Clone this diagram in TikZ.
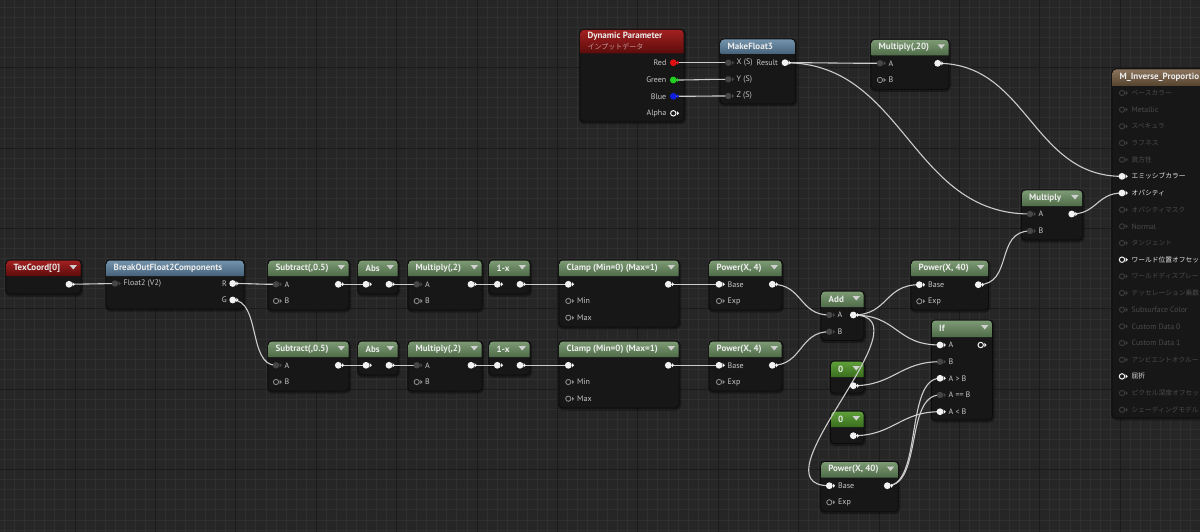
\documentclass[tikz,border=0pt]{standalone}
\usepackage{fontspec}
\setmainfont{PT Sans}
\newfontfamily\jp{Noto Sans CJK JP}
\newcommand\jpm{\fontsize{6.75}{8}\selectfont\jp}
\usetikzlibrary{calc}
\definecolor{bgc}{HTML}{262626}
\definecolor{gminor}{HTML}{2F2F2F}
\definecolor{gmajor}{HTML}{1B1B1B}
\definecolor{bodyc}{HTML}{171717}
\definecolor{bodyline}{HTML}{0B0B0B}
\definecolor{grtop}{HTML}{7C9A74}
\definecolor{grbot}{HTML}{4F6C48}
\definecolor{rdtop}{HTML}{A32020}
\definecolor{rdbot}{HTML}{5C0C0C}
\definecolor{bltop}{HTML}{7393AC}
\definecolor{blbot}{HTML}{46627A}
\definecolor{cgtop}{HTML}{5FA03A}
\definecolor{cgbot}{HTML}{3A6E1E}
\definecolor{brtop}{HTML}{8B735C}
\definecolor{brbot}{HTML}{55432F}
\definecolor{hdrtx}{HTML}{ECECEC}
\definecolor{lblc}{HTML}{C8C8C8}
\definecolor{dimtx}{HTML}{4A4A4A}
\definecolor{brtx}{HTML}{E4E4E4}
\definecolor{wirec}{HTML}{CCCCCC}
\definecolor{pinwc}{HTML}{F2F2F2}
\definecolor{pindc}{HTML}{464646}
\definecolor{pinhc}{HTML}{8A8A8A}
\definecolor{pindim}{HTML}{3E3E3E}
\definecolor{pinred}{HTML}{E01010}
\definecolor{pingrn}{HTML}{20D020}
\definecolor{pinblu}{HTML}{1020E0}
\definecolor{jpsub}{HTML}{C29A9A}
\definecolor{ddc}{HTML}{D0D0D0}
\pgfdeclarelayer{bglayer}
\pgfdeclarelayer{wirelayer}
\pgfsetlayers{bglayer,wirelayer,main}
\tikzset{
 wire/.style={draw=wirec, line width=1.1pt},
 uebody/.style={draw=bodyline, fill=bodyc, rounded corners=4, inner sep=0, outer sep=0, line width=0.8pt},
 hgreen/.style={top color=grtop, bottom color=grbot},
 hred/.style={top color=rdtop, bottom color=rdbot},
 hblue/.style={top color=bltop, bottom color=blbot},
 hconst/.style={top color=cgtop, bottom color=cgbot},
 hbrown/.style={top color=brtop, bottom color=brbot},
 hdrtext/.style={font=\fontsize{9}{10}\selectfont\bfseries, text=hdrtx, anchor=west, inner sep=0},
 lbl/.style={font=\fontsize{8}{9}\selectfont, text=lblc, anchor=west, inner sep=0},
 lblr/.style={lbl, anchor=east},
 matlbl/.style={font=\fontsize{7.8}{9}\selectfont, anchor=west, inner sep=0},
 jpsubt/.style={font=\fontsize{7}{8}\selectfont\jp, text=jpsub, anchor=west, inner sep=0},
 ddtri/.style={fill=ddc},
 pinW/.style={circle, fill=pinwc, inner sep=0, minimum size=6.8},
 tipW/.style={fill=pinwc},
 pinD/.style={circle, fill=pindc, inner sep=0, minimum size=6.4},
 tipD/.style={fill=pindc},
 pinH/.style={circle, draw=pinhc, line width=0.9pt, inner sep=0, minimum size=5.2},
 tipH/.style={fill=pinhc},
 pinHW/.style={circle, draw=pinwc, line width=1pt, inner sep=0, minimum size=5.4},
 tipHW/.style={fill=pinwc},
 pinHD/.style={circle, draw=pindim, line width=0.9pt, inner sep=0, minimum size=5.2},
 tipHD/.style={fill=pindim},
 pinR/.style={circle, fill=pinred, inner sep=0, minimum size=6.8},
 tipR/.style={fill=pinred},
 pinG/.style={circle, fill=pingrn, inner sep=0, minimum size=6.8},
 tipG/.style={fill=pingrn},
 pinB/.style={circle, fill=pinblu, inner sep=0, minimum size=6.8},
 tipB/.style={fill=pinblu},
}
% #1 name, #2 x1, #3 y1, #4 x2, #5 y2, #6 header height, #7 header style, #8 title
\newcommand\uebox[8]{%
 \begin{pgfonlayer}{bglayer}
 \fill[black, opacity=0.35, rounded corners=5] (#2-1,#3-0.5) rectangle (#4+2,#5+2.5);
 \node[uebody, anchor=north west, minimum width={#4-#2}, minimum height={#5-#3}] (#1) at (#2,#3) {};
 \shade[#7] (#2+0.5,#3+#6) [rounded corners=3.5] -- (#2+0.5,#3+0.5) -- (#4-0.5,#3+0.5) [sharp corners] -- (#4-0.5,#3+#6) -- cycle;
 \end{pgfonlayer}
 \node[hdrtext] (#1-t) at (#2+7.5,#3+#6/2) {#8};
}
\newcommand\dd[1]{\fill[ddtri] ($(#1.north east)+(-11.5,5)$) -- ++(7.5,0) -- ++(-3.75,4.5) -- cycle;}
% #1 style letter, #2 name, #3 x, #4 y
\newcommand\mkpin[4]{%
 \node[pin#1] (#2) at (#3,#4) {};
 \fill[tip#1] ($(#2.center)+(3.7,-2.1)$) -- ++(2.1,2.1) -- ++(-2.1,2.1) -- cycle;
}
% #1 suffix, #2 top y
\newcommand\chainrow[2]{%
 \uebox{sub#1}{268}{#2}{349}{#2+50}{16}{hgreen}{Subtract(,0.5)}\dd{sub#1}
 \mkpin{D}{sub#1a}{276}{#2+24.3}\node[lbl] (sub#1al) at (284.5,#2+24.3) {A};
 \mkpin{H}{sub#1b}{276}{#2+41}\node[lbl] (sub#1bl) at (284.5,#2+41) {B};
 \mkpin{W}{sub#1o}{338.3}{#2+24.3}
 \uebox{abs#1}{358}{#2}{398}{#2+34}{16}{hgreen}{Abs}\dd{abs#1}
 \mkpin{W}{abs#1i}{366}{#2+24.3}
 \mkpin{W}{abs#1o}{389}{#2+24.3}
 \uebox{mul#1}{408}{#2}{482}{#2+50}{16}{hgreen}{Multiply(,2)}\dd{mul#1}
 \mkpin{D}{mul#1a}{416.7}{#2+24.3}\node[lbl] (mul#1al) at (425,#2+24.3) {A};
 \mkpin{H}{mul#1b}{416.7}{#2+41}\node[lbl] (mul#1bl) at (425,#2+41) {B};
 \mkpin{W}{mul#1o}{471}{#2+24.3}
 \uebox{omx#1}{489}{#2}{530}{#2+34}{16}{hgreen}{1-x}\dd{omx#1}
 \mkpin{W}{omx#1i}{497.3}{#2+24.3}
 \mkpin{W}{omx#1o}{520}{#2+24.3}
 \uebox{clp#1}{559}{#2}{679}{#2+67}{16}{hgreen}{Clamp (Min=0) (Max=1)}\dd{clp#1}
 \mkpin{W}{clp#1i}{568.3}{#2+24.3}
 \mkpin{H}{clp#1n}{568.3}{#2+41}\node[lbl] (clp#1nl) at (577,#2+41) {Min};
 \mkpin{H}{clp#1x}{568.3}{#2+57.7}\node[lbl] (clp#1xl) at (577,#2+57.7) {Max};
 \mkpin{W}{clp#1o}{668.3}{#2+24.3}
 \uebox{pow#1}{709}{#2}{782}{#2+50}{16}{hgreen}{Power(X, 4)}\dd{pow#1}
 \mkpin{W}{pow#1b}{719}{#2+24.3}\node[lbl] (pow#1bl) at (727.5,#2+24.3) {Base};
 \mkpin{H}{pow#1e}{719}{#2+41}\node[lbl] (pow#1el) at (727.5,#2+41) {Exp};
 \mkpin{W}{pow#1o}{772.3}{#2+24.3}
 \begin{pgfonlayer}{wirelayer}
 \draw[wire] (sub#1o.center) -- (abs#1i.center);
 \draw[wire] (abs#1o.center) -- (mul#1a.center);
 \draw[wire] (mul#1o.center) -- (omx#1i.center);
 \draw[wire] (omx#1o.center) -- (clp#1i.center);
 \draw[wire] (clp#1o.center) -- (pow#1b.center);
 \end{pgfonlayer}
}
% #1 index, #2 pin style, #3 text colour, #4 text
\newcommand\matpin[4]{%
 \mkpin{#2}{mp#1}{1122}{93+#1*16.67}
 \node[matlbl, text=#3] (ml#1) at (1131.5,93+#1*16.67) {#4};
}
\begin{document}
\begin{tikzpicture}[x=1pt,y=-1pt]
\useasboundingbox (0,0) rectangle (1200,532);
\begin{pgfonlayer}{bglayer}
\fill[bgc] (0,0) rectangle (1200,532);
\foreach \i in {-7,...,112} \draw[gminor, line width=0.9pt] ({75+\i*10.05},0) -- ({75+\i*10.05},532);
\foreach \j in {-6,...,46} \draw[gminor, line width=0.9pt] (0,{67.7+\j*10.05}) -- (1200,{67.7+\j*10.05});
\foreach \i in {0,...,14} \draw[gmajor, line width=1pt] ({75+\i*80.4},0) -- ({75+\i*80.4},532);
\foreach \j in {0,...,5} \draw[gmajor, line width=1pt] (0,{67.7+\j*80.4}) -- (1200,{67.7+\j*80.4});
\end{pgfonlayer}

% TexCoord
\uebox{tex}{6}{260}{81}{294}{16}{hred}{TexCoord[0]}\dd{tex}
\mkpin{W}{texo}{69}{284.3}
% BreakOut
\uebox{brk}{106}{260}{244}{309}{16}{hblue}{BreakOutFloat2Components}
\mkpin{D}{brki}{115}{283.5}\node[lbl] (brkil) at (123.5,283.5) {Float2 (V2)};
\mkpin{W}{brkr}{232.7}{283.5}\node[lblr] (brkrl) at (227,283.5) {R};
\mkpin{W}{brkg}{232.7}{300}\node[lblr] (brkgl) at (227,300) {G};

\chainrow{1}{260}
\chainrow{2}{341}

% Add
\uebox{add}{821}{291}{864}{340.5}{16}{hgreen}{Add}\dd{add}
\mkpin{D}{adda}{829.3}{315}\node[lbl] (addal) at (837.5,315) {A};
\mkpin{D}{addb}{829.3}{331.7}\node[lbl] (addbl) at (837.5,331.7) {B};
\mkpin{W}{addo}{853.3}{315}
% Power 40 top
\uebox{p40a}{911}{260}{988.5}{310}{16}{hgreen}{Power(X, 40)}\dd{p40a}
\mkpin{W}{p40ab}{919.3}{284.7}\node[lbl] (p40abl) at (928,284.7) {Base};
\mkpin{H}{p40ae}{919.3}{301.3}\node[lbl] (p40ael) at (928,301.3) {Exp};
\mkpin{W}{p40ao}{978.3}{284.7}
% If
\uebox{iff}{931.5}{320}{992.5}{420}{17}{hgreen}{If}\dd{iff}
\mkpin{W}{iffa}{940}{345}\node[lbl] (iffal) at (948.5,345) {A};
\mkpin{D}{iffb}{940}{361.7}\node[lbl] (iffbl) at (948.5,361.7) {B};
\mkpin{W}{iffgt}{940}{378.3}\node[lbl] (iffgtl) at (948.5,378.3) {A > B};
\mkpin{D}{iffeq}{940}{395}\node[lbl] (iffeql) at (948.5,395) {A == B};
\mkpin{W}{ifflt}{940}{411.7}\node[lbl] (ifflt-l) at (948.5,411.7) {A < B};
\mkpin{HW}{iffo}{980.7}{345}
% Constants
\uebox{c0a}{830.5}{361}{864}{393.3}{16}{hconst}{0}\dd{c0a}
\mkpin{W}{c0ao}{853.3}{385.7}
\uebox{c0b}{830.5}{411}{864}{443.5}{16}{hconst}{0}\dd{c0b}
\mkpin{W}{c0bo}{853.3}{435.7}
% Power 40 bottom
\uebox{p40b}{820.7}{461.5}{898.3}{511.7}{16}{hgreen}{Power(X, 40)}\dd{p40b}
\mkpin{W}{p40bb}{829.3}{485.7}\node[lbl] (p40bbl) at (838,485.7) {Base};
\mkpin{H}{p40be}{829.3}{502.3}\node[lbl] (p40bel) at (838,502.3) {Exp};
\mkpin{W}{p40bo}{887.3}{485.7}
% Multiply
\uebox{mul}{1021.5}{190}{1082.7}{240}{16}{hgreen}{Multiply}\dd{mul}
\mkpin{D}{mula}{1030}{214}\node[lbl] (mulal) at (1038.5,214) {A};
\mkpin{D}{mulb}{1030}{231}\node[lbl] (mulbl) at (1038.5,231) {B};
\mkpin{W}{mulo}{1071.7}{214}
% Dynamic Parameter
\uebox{dyn}{580}{29.3}{684}{121.7}{24}{hred}{}
\node[hdrtext] (dynt1) at (587.3,36) {Dynamic Parameter};
\node[jpsubt] (dynt2) at (587.3,46.7) {インプットデータ};
\mkpin{R}{dynr}{673.3}{62.7}\node[lblr] (dynrl) at (666.5,62.7) {Red};
\mkpin{G}{dyng}{673.3}{80}\node[lblr] (dyngl) at (666.5,80) {Green};
\mkpin{B}{dynb}{673.3}{96.3}\node[lblr] (dynbl) at (666.5,96.3) {Blue};
\mkpin{HW}{dyna}{673.3}{113.3}\node[lblr] (dynal) at (666.5,113.3) {Alpha};
% MakeFloat3
\uebox{mk3}{720}{39}{795.3}{104}{15}{hblue}{MakeFloat3}
\mkpin{D}{mk3x}{728.3}{62.7}\node[lbl] (mk3xl) at (736.5,62.7) {X (S)};
\mkpin{D}{mk3y}{728.3}{79.3}\node[lbl] (mk3yl) at (736.5,79.3) {Y (S)};
\mkpin{D}{mk3z}{728.3}{96}\node[lbl] (mk3zl) at (736.5,96) {Z (S)};
\node[lblr] (mk3ol) at (778,62.7) {Result};
\mkpin{W}{mk3o}{785}{62.7}
% Multiply(,20)
\uebox{m20}{871}{39.3}{949}{89.3}{16}{hgreen}{Multiply(,20)}\dd{m20}
\mkpin{D}{m20a}{880}{63.3}\node[lbl] (m20al) at (888.5,63.3) {A};
\mkpin{H}{m20b}{880}{80}\node[lbl] (m20bl) at (888.5,80) {B};
\mkpin{W}{m20o}{937.7}{63.3}
% Material
\uebox{mat}{1112}{69}{1215}{418}{17}{hbrown}{M\_Inverse\_Proportio}
\matpin{0}{HD}{dimtx}{\jpm ベースカラー}
\matpin{1}{HD}{dimtx}{Metallic}
\matpin{2}{HD}{dimtx}{\jpm スペキュラ}
\matpin{3}{HD}{dimtx}{\jpm ラフネス}
\matpin{4}{HD}{dimtx}{\jpm 異方性}
\matpin{5}{W}{brtx}{\jpm エミッシブカラー}
\matpin{6}{W}{brtx}{\jpm オパシティ}
\matpin{7}{HD}{dimtx}{\jpm オパシティマスク}
\matpin{8}{HD}{dimtx}{Normal}
\matpin{9}{HD}{dimtx}{\jpm タンジェント}
\matpin{10}{HW}{brtx}{\jpm ワールド位置オフセッ}
\matpin{11}{HD}{dimtx}{\jpm ワールドディスプレー}
\matpin{12}{HD}{dimtx}{\jpm テッセレーション乗数}
\matpin{13}{HD}{dimtx}{Subsurface Color}
\matpin{14}{HD}{dimtx}{Custom Data 0}
\matpin{15}{HD}{dimtx}{Custom Data 1}
\matpin{16}{HD}{dimtx}{\jpm アンビエントオクルー}
\matpin{17}{HW}{brtx}{\jpm 屈折}
\matpin{18}{HD}{dimtx}{\jpm ピクセル深度オフセッ}
\matpin{19}{HD}{dimtx}{\jpm シェーディングモデル}

% Wires
\begin{pgfonlayer}{wirelayer}
\draw[wire] (texo.center) -- (brki.center);
\draw[wire] (brkr.center) .. controls +(20,0) and +(-20,0) .. (sub1a.center);
\draw[wire] (brkg.center) .. controls +(28,0) and +(-28,0) .. (sub2a.center);
\draw[wire] (pow1o.center) .. controls +(30,0) and +(-30,0) .. (adda.center);
\draw[wire] (pow2o.center) .. controls +(30,0) and +(-30,0) .. (addb.center);
\draw[wire] (addo.center) .. controls +(35,0) and +(-35,0) .. (p40ab.center);
\draw[wire] (addo.center) .. controls +(45,0) and +(-45,0) .. (iffa.center);
\draw[wire] (addo.center) .. controls +(80,0) and +(-80,0) .. (p40bb.center);
\draw[wire] (c0ao.center) .. controls +(40,0) and +(-40,0) .. (iffb.center);
\draw[wire] (c0bo.center) .. controls +(40,0) and +(-40,0) .. (ifflt.center);
\draw[wire] (p40bo.center) .. controls +(35,0) and +(-35,0) .. (iffgt.center);
\draw[wire] (p40bo.center) .. controls +(35,0) and +(-35,0) .. (iffeq.center);
\draw[wire] (p40ao.center) .. controls +(35,0) and +(-35,0) .. (mulb.center);
\draw[wire] (mk3o.center) .. controls +(40,0) and +(-40,0) .. (m20a.center);
\draw[wire] (mk3o.center) .. controls +(120,0) and +(-120,0) .. (mula.center);
\draw[wire] (m20o.center) .. controls +(90,0) and +(-90,0) .. (mp5.center);
\draw[wire] (mulo.center) .. controls +(25,0) and +(-25,0) .. (mp6.center);
\draw[wire] (dynr.center) -- (mk3x.center);
\draw[wire] (dyng.center) .. controls +(25,0) and +(-25,0) .. (mk3y.center);
\draw[wire] (dynb.center) .. controls +(25,0) and +(-25,0) .. (mk3z.center);
\end{pgfonlayer}
\end{tikzpicture}
\end{document}
